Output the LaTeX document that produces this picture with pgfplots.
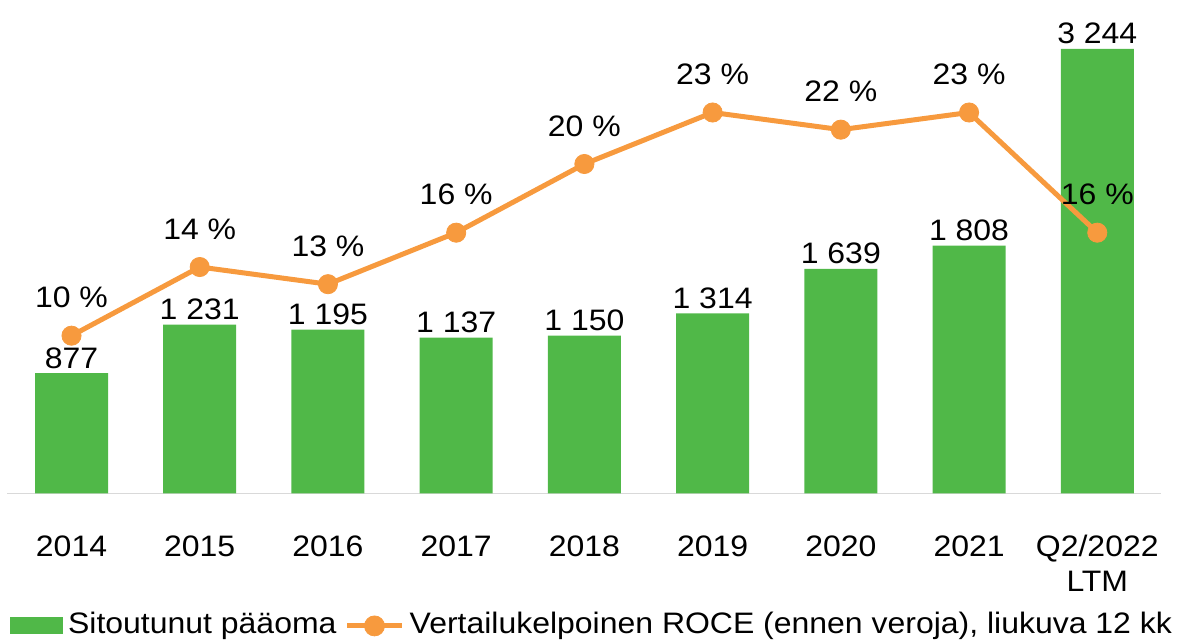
\documentclass[border=0pt]{standalone}
\usepackage{pgfplots}
\usepackage{pgfplotstable}
\pgfplotsset{compat=1.18}
\usepackage{fontspec}
\setmainfont{Liberation Sans}[FakeStretch=1.08]

\definecolor{bargreen}{RGB}{80,184,72}
\definecolor{roceorange}{RGB}{247,154,62}
\definecolor{axisgray}{RGB}{217,217,217}

% Capital employed (MEUR) and comparable ROCE (%) per period
\pgfplotstableread{
x capital roce
0 877 10
1 1231 14
2 1195 13
3 1137 16
4 1150 20
5 1314 23
6 1639 22
7 1808 23
8 3244 16
}\datatable

\begin{document}
\begin{tikzpicture}[font=\fontsize{14.8}{17.9}\selectfont]
\path[use as bounding box] (0,0) rectangle (588.5pt,321pt);

% bars: capital employed
\begin{axis}[
  at={(3.7pt,74.35pt)}, anchor=south west,
  scale only axis, width=577pt, height=239.75pt,
  xmin=-0.5, xmax=8.5, ymin=0, ymax=3500,
  ybar, bar width=36.5pt,
  axis x line=bottom, axis y line=none,
  axis line style={draw=axisgray, line width=0.75pt, -},
  xtick={0,...,8},
  xticklabels={2014,2015,2016,2017,2018,2019,2020,2021,
    {\begin{tabular}[t]{@{}c@{}}Q2/2022\\LTM\end{tabular}}},
  major tick length=0pt,
  xticklabel style={anchor=base, yshift=-31.35pt},
  ytick=\empty,
  clip=false,
  nodes near coords,
  every node near coord/.append style={anchor=base, yshift=2.5pt, inner sep=0pt, text=black},
  /pgf/number format/1000 sep={\ },
  /pgf/number format/assume math mode=true,
  legend columns=-1,
  legend style={at={(axis description cs:0.0022,-0.2726)}, anchor=west,
    draw=none, fill=none, inner sep=0pt, outer sep=0pt,
    nodes={inner sep=0pt, anchor=base west},
    /tikz/every odd column/.append style={column sep=2.6pt},
    /tikz/every even column/.append style={column sep=4pt}},
]
\addplot[fill=bargreen, draw=none,
  legend image code/.code={\fill[bargreen] (0pt,-0.2pt) rectangle (26.5pt,8.2pt);}]
  table[x=x, y=capital] {\datatable};
\addlegendentry{Sitoutunut pääoma}
\addlegendimage{legend image code/.code={
  \draw[roceorange, line width=2.5pt] (0pt,3.6pt) -- (27.5pt,3.6pt);
  \fill[roceorange] (13.75pt,3.6pt) circle (5pt);}}
\addlegendentry{Vertailukelpoinen ROCE (ennen veroja), liukuva 12 kk}
\end{axis}

% line: comparable ROCE on its own scale
\begin{axis}[
  at={(3.7pt,74.35pt)}, anchor=south west,
  scale only axis, width=577pt, height=239.75pt,
  xmin=-0.5, xmax=8.5, ymin=0.82, ymax=28.75,
  hide axis, clip=false,
  nodes near coords={\pgfmathprintnumber{\pgfplotspointmeta}\ \%},
  every node near coord/.append style={anchor=base, yshift=14pt, inner sep=0pt, text=black},
  /pgf/number format/assume math mode=true,
]
\addplot[roceorange, line width=2.5pt, mark=*, mark size=4.8pt,
  mark options={fill=roceorange, draw=roceorange, line width=0.4pt}]
  table[x=x, y=roce] {\datatable};
\end{axis}
\end{tikzpicture}
\end{document}
